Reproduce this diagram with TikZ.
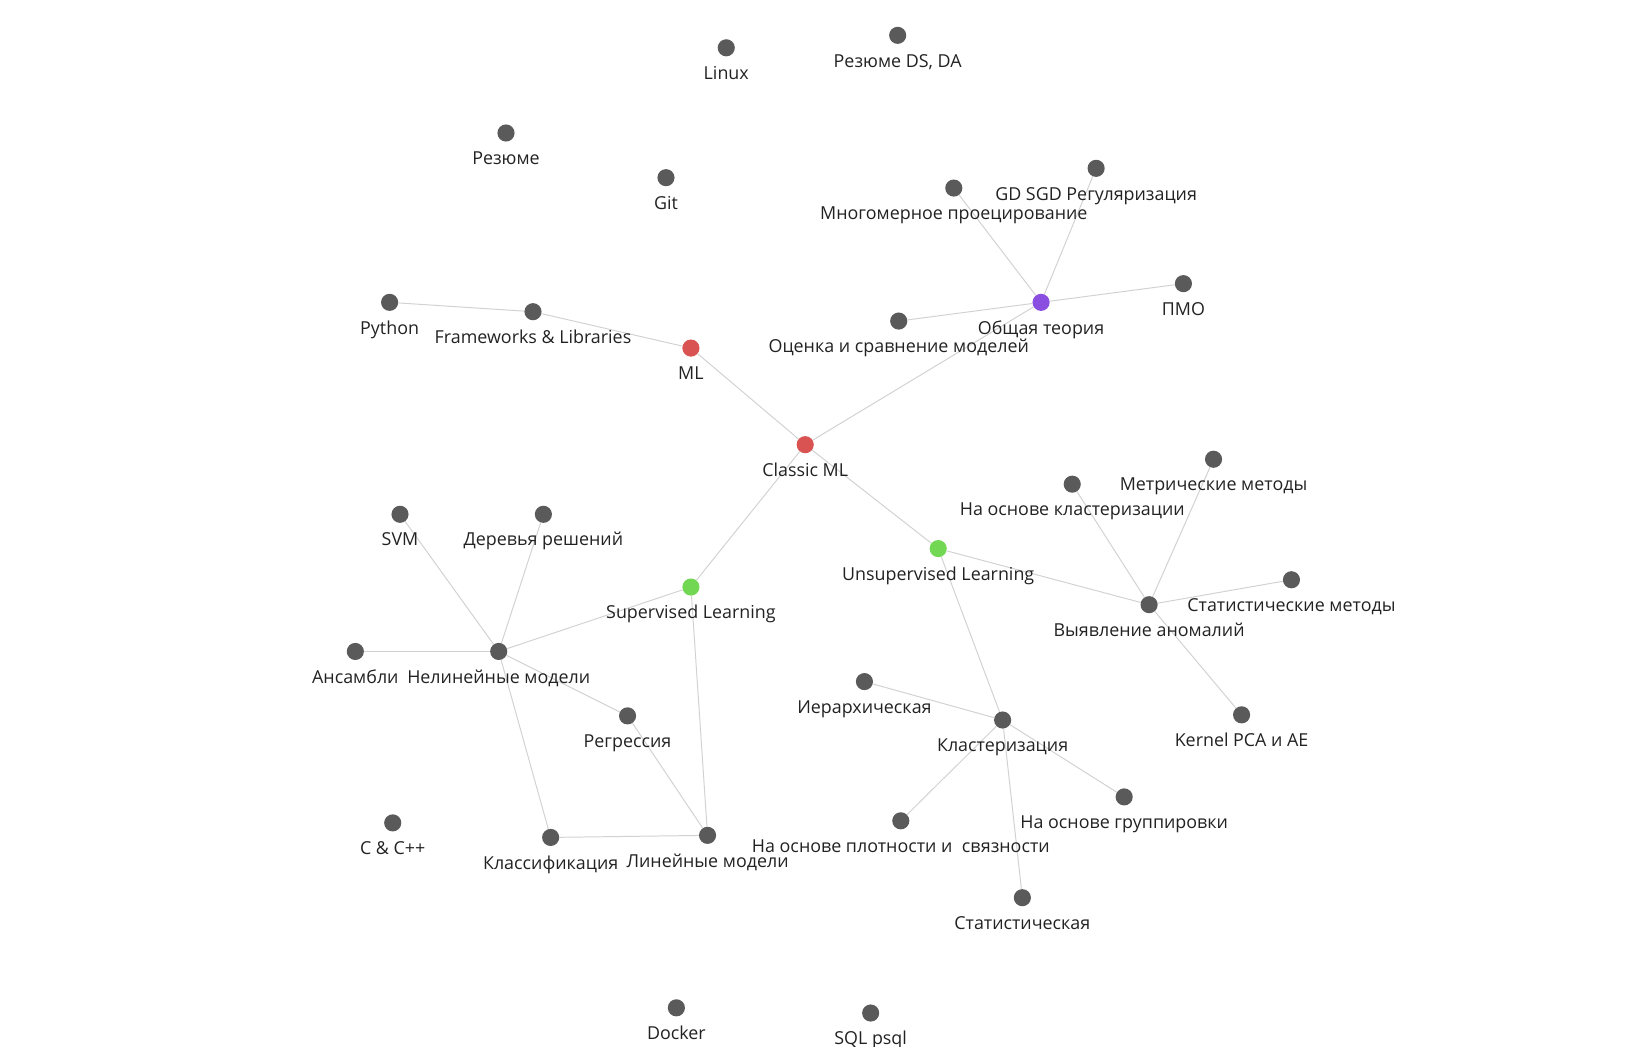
\documentclass[tikz,border=0pt]{standalone}
\usepackage{fontspec}
\setmainfont{Open Sans}
\usetikzlibrary{backgrounds}
\definecolor{dotgray}{HTML}{5A5A5A}
\definecolor{dotred}{HTML}{D95353}
\definecolor{dotpurple}{HTML}{8A4FE0}
\definecolor{dotgreen}{HTML}{72D854}
\definecolor{edgegray}{HTML}{D2D2D2}
\definecolor{txt}{HTML}{222222}
\tikzset{
  dot/.style={circle,fill=dotgray,draw=none,minimum size=16.5pt,inner sep=0pt},
  reddot/.style={dot,fill=dotred},
  purpledot/.style={dot,fill=dotpurple},
  greendot/.style={dot,fill=dotgreen},
  lbl/.style={anchor=base,inner sep=0pt,text=txt,font=\fontsize{17.2pt}{19pt}\selectfont},
  edge/.style={draw=edgegray,line width=0.95pt}
}
\newcommand{\gnode}[5]{%
  \node[#1] (#2) at (#3) {};
  \node[lbl] (#2-l) at ([yshift=-30.5pt]#2.center) {#5};
}
\begin{document}
\begin{tikzpicture}[x=1pt,y=-1pt]
\useasboundingbox (0,0) rectangle (1565,1007.7);
\gnode{dot}{linux}{699,46}{}{Linux}
\gnode{dot}{resds}{864,34}{}{Резюме DS, DA}
\gnode{dot}{res}{487,128}{}{Резюме}
\gnode{dot}{git}{641,171}{}{Git}
\gnode{dot}{mnog}{918,181}{}{Многомерное проецирование}
\gnode{dot}{gd}{1055,162}{}{GD SGD Регуляризация}
\gnode{dot}{pmo}{1139,273}{}{ПМО}
\gnode{purpledot}{ob}{1002,291}{}{Общая теория}
\gnode{dot}{ocen}{865,309}{}{Оценка и сравнение моделей}
\gnode{dot}{py}{375,291}{}{Python}
\gnode{dot}{fw}{513,300}{}{Frameworks \& Libraries}
\gnode{reddot}{ml}{665,335}{}{ML}
\gnode{reddot}{cml}{775,428}{}{Classic ML}
\gnode{dot}{metr}{1168,442}{}{Метрические методы}
\gnode{dot}{nakl}{1032,466}{}{На основе кластеризации}
\gnode{greendot}{unsup}{903,528}{}{Unsupervised Learning}
\gnode{dot}{stm}{1243,558}{}{Статистические методы}
\gnode{dot}{anom}{1106,582}{}{Выявление аномалий}
\gnode{dot}{kpca}{1195,688}{}{Kernel PCA и AE}
\gnode{dot}{svm}{385,495}{}{SVM}
\gnode{dot}{der}{523,495}{}{Деревья решений}
\gnode{greendot}{sup}{665,565}{}{Supervised Learning}
\gnode{dot}{ans}{342,627}{}{Ансамбли}
\gnode{dot}{nelin}{480,627}{}{Нелинейные модели}
\gnode{dot}{regr}{604,689}{}{Регрессия}
\gnode{dot}{ier}{832,656}{}{Иерархическая}
\gnode{dot}{klast}{965,693}{}{Кластеризация}
\gnode{dot}{grup}{1082,767}{}{На основе группировки}
\gnode{dot}{plot}{867,790}{}{На основе плотности и~ связности}
\gnode{dot}{stat}{984,864}{}{Статистическая}
\gnode{dot}{cpp}{378,792}{}{C \& C++}
\gnode{dot}{klass}{530,806}{}{Классификация}
\gnode{dot}{lin}{681,804}{}{Линейные модели}
\gnode{dot}{dock}{651,970}{}{Docker}
\gnode{dot}{sql}{838,975}{}{SQL psql}
\begin{scope}[on background layer]
\foreach \a/\b in {py/fw, fw/ml, ml/cml, cml/ob, ob/mnog, ob/gd, ob/pmo, ob/ocen,
  cml/sup, cml/unsup, unsup/anom, unsup/klast, anom/nakl, anom/metr, anom/stm, anom/kpca,
  sup/nelin, sup/lin, nelin/svm, nelin/der, nelin/ans, nelin/regr, nelin/klass,
  regr/lin, klass/lin, klast/ier, klast/grup, klast/plot, klast/stat}
  \draw[edge] (\a) -- (\b);
\end{scope}
\end{tikzpicture}
\end{document}
